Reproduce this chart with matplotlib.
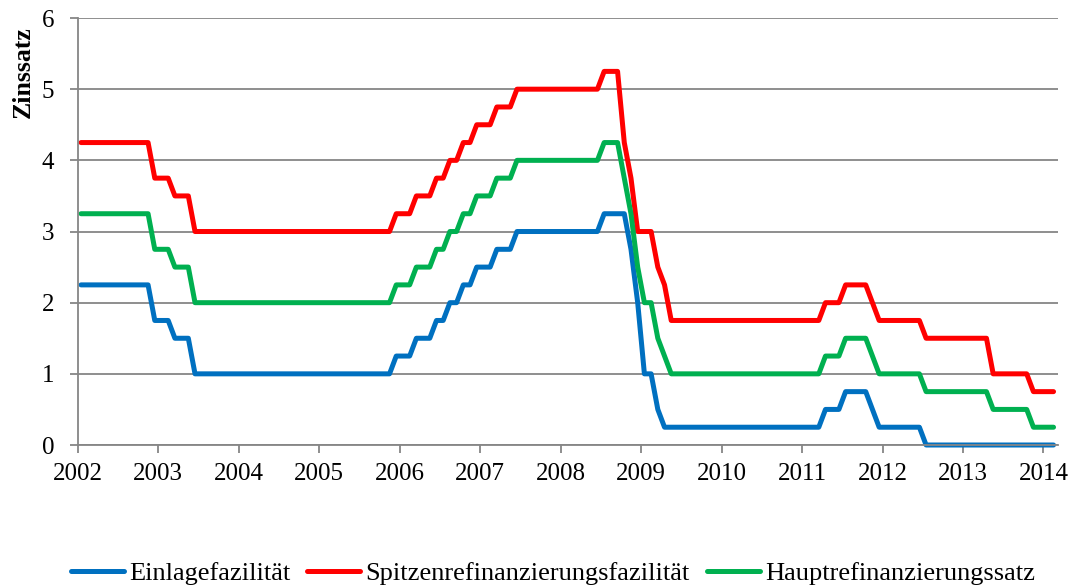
import numpy as np
import pandas as pd
import matplotlib
matplotlib.use("Agg")
import matplotlib.pyplot as plt

# EZB-Leitzinsen, Monatsendwerte Jan 2002 - Feb 2014
months = pd.date_range("2002-01", "2014-02", freq="MS")

einlage = (
    [2.25]*11 + [1.75]                                                   # 2002
    + [1.75, 1.75, 1.5, 1.5, 1.5] + [1.0]*7                              # 2003
    + [1.0]*12                                                           # 2004
    + [1.0]*11 + [1.25]                                                  # 2005
    + [1.25, 1.25, 1.5, 1.5, 1.5, 1.75, 1.75, 2.0, 2.0, 2.25, 2.25, 2.5]  # 2006
    + [2.5, 2.5, 2.75, 2.75, 2.75] + [3.0]*7                             # 2007
    + [3.0]*6 + [3.25, 3.25, 3.25, 3.25, 2.75, 2.0]                      # 2008
    + [1.0, 1.0, 0.5] + [0.25]*9                                         # 2009
    + [0.25]*12                                                          # 2010
    + [0.25]*3 + [0.5]*3 + [0.75]*4 + [0.5, 0.25]                        # 2011
    + [0.25]*6 + [0.0]*6                                                 # 2012
    + [0.0]*12                                                           # 2013
    + [0.0, 0.0]                                                         # 2014
)

spitzen = (
    [4.25]*11 + [3.75]
    + [3.75, 3.75, 3.5, 3.5, 3.5] + [3.0]*7
    + [3.0]*12
    + [3.0]*11 + [3.25]
    + [3.25, 3.25, 3.5, 3.5, 3.5, 3.75, 3.75, 4.0, 4.0, 4.25, 4.25, 4.5]
    + [4.5, 4.5, 4.75, 4.75, 4.75] + [5.0]*7
    + [5.0]*6 + [5.25, 5.25, 5.25, 4.25, 3.75, 3.0]
    + [3.0, 3.0, 2.5, 2.25] + [1.75]*8
    + [1.75]*12
    + [1.75]*3 + [2.0]*3 + [2.25]*4 + [2.0, 1.75]
    + [1.75]*6 + [1.5]*6
    + [1.5]*4 + [1.0]*6 + [0.75]*2
    + [0.75, 0.75]
)

haupt = (
    [3.25]*11 + [2.75]
    + [2.75, 2.75, 2.5, 2.5, 2.5] + [2.0]*7
    + [2.0]*12
    + [2.0]*11 + [2.25]
    + [2.25, 2.25, 2.5, 2.5, 2.5, 2.75, 2.75, 3.0, 3.0, 3.25, 3.25, 3.5]
    + [3.5, 3.5, 3.75, 3.75, 3.75] + [4.0]*7
    + [4.0]*6 + [4.25, 4.25, 4.25, 3.75, 3.25, 2.5]
    + [2.0, 2.0, 1.5, 1.25] + [1.0]*8
    + [1.0]*12
    + [1.0]*3 + [1.25]*3 + [1.5]*4 + [1.25, 1.0]
    + [1.0]*6 + [0.75]*6
    + [0.75]*4 + [0.5]*6 + [0.25]*2
    + [0.25, 0.25]
)

x = months.year + (months.month - 0.5) / 12

plt.rcParams['font.family'] = ['Liberation Serif', 'DejaVu Serif']
grey = '#868686'

fig = plt.figure(figsize=(10.89, 5.87), dpi=100)
ax = fig.add_axes([0.0713, 0.2419, 0.9002, 0.7274])

ax.plot(x, einlage, color='#0070C0', lw=3.6, solid_capstyle='round', clip_on=False, label='Einlagefazilität')
ax.plot(x, spitzen, color='#FF0000', lw=3.6, solid_capstyle='round', clip_on=False, label='Spitzenrefinanzierungsfazilität')
ax.plot(x, haupt, color='#00B050', lw=3.6, solid_capstyle='round', clip_on=False, label='Hauptrefinanzierungssatz')

ax.set_xlim(2002, 2014.18)
ax.set_ylim(0, 6)
ax.set_xticks(range(2002, 2015))
ax.set_yticks(range(0, 7))
ax.yaxis.grid(True, color=grey, lw=1.3)
ax.set_axisbelow(True)
for s in ['top', 'right']:
    ax.spines[s].set_visible(False)
for s in ['left', 'bottom']:
    ax.spines[s].set_color(grey)
    ax.spines[s].set_linewidth(1.3)
ax.tick_params(axis='both', colors=grey, width=1.3, length=6, labelsize=18, labelcolor='black')
ax.tick_params(axis='y', pad=11)
ax.tick_params(axis='x', pad=7)

fig.text(23/1089, 1 - 72/587, 'Zinssatz', rotation=90, ha='center', va='center',
         fontsize=18.5, fontweight='bold')

fig.legend(loc='center', bbox_to_anchor=(553/1089, 1 - 573/587), ncol=3, frameon=False,
           fontsize=19, handlelength=2.0, handletextpad=0.2, columnspacing=0.65,
           borderaxespad=0)

plt.savefig('out.png', dpi=100)
